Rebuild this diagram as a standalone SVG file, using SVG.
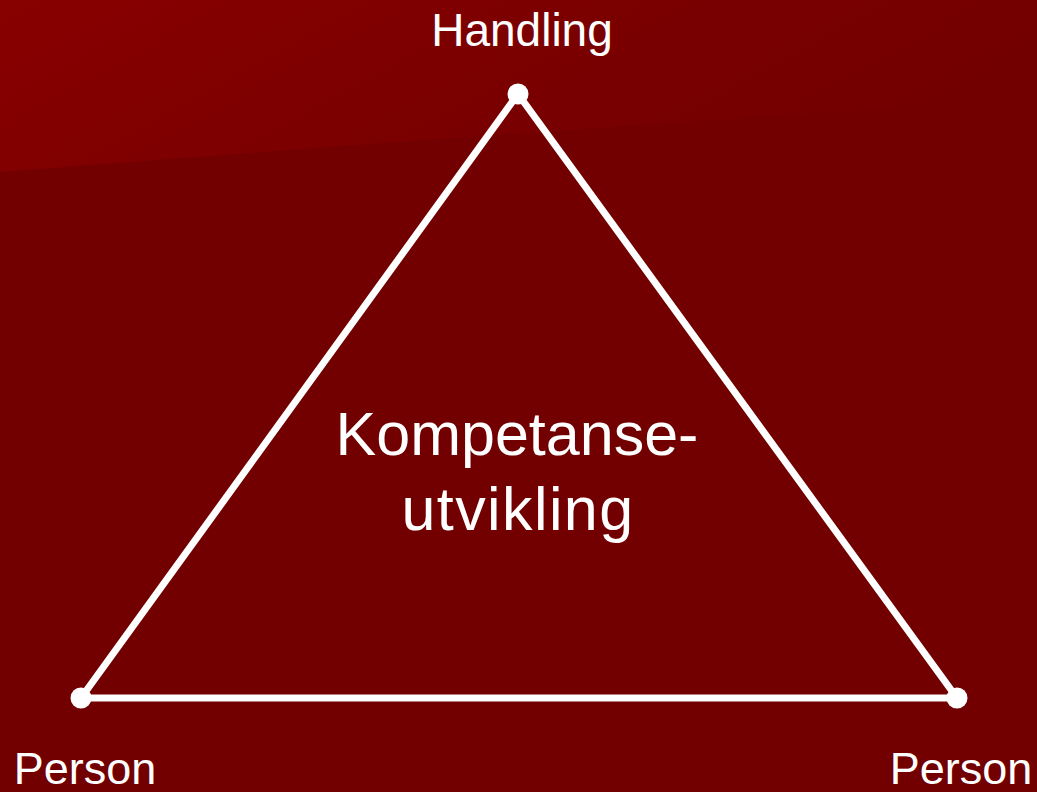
<svg xmlns="http://www.w3.org/2000/svg" width="1037" height="792" viewBox="0 0 1037 792">
  <defs>
    <linearGradient id="topg" x1="0" y1="0" x2="1" y2="0.3">
      <stop offset="0" stop-color="#880000"/>
      <stop offset="0.6" stop-color="#7a0000"/>
      <stop offset="1" stop-color="#730000"/>
    </linearGradient>
    <style>
      .lbl { font-family: "Liberation Sans", Arial, sans-serif; fill: #ffffff; text-anchor: middle; }
      .edge { stroke: #ffffff; stroke-width: 7; fill: none; stroke-linecap: round; }
      .dot { fill: #ffffff; }
    </style>
  </defs>
  <rect x="0" y="0" width="1037" height="792" fill="#720000"/>
  <path d="M0,0 H1037 V100 Q560,128 0,172 Z" fill="url(#topg)"/>
  <g id="connectors">
    <line class="edge" x1="518" y1="94" x2="81" y2="698"/>
    <line class="edge" x1="518" y1="94" x2="957" y2="698"/>
    <line class="edge" x1="81" y1="698" x2="957" y2="698"/>
  </g>
  <g id="node-handling">
    <circle class="dot" cx="518" cy="94" r="10.5"/>
    <text class="lbl" x="522" y="46" font-size="46">Handling</text>
  </g>
  <g id="node-person-left">
    <circle class="dot" cx="81" cy="698" r="10.5"/>
    <text class="lbl" x="85" y="784" font-size="45">Person</text>
  </g>
  <g id="node-person-right">
    <circle class="dot" cx="957" cy="698" r="10.5"/>
    <text class="lbl" x="961" y="784" font-size="45">Person</text>
  </g>
  <g id="node-center">
    <text class="lbl" x="517" y="455" font-size="61">Kompetanse-</text>
    <text class="lbl" x="518" y="530" font-size="61" letter-spacing="1.4">utvikling</text>
  </g>
</svg>
